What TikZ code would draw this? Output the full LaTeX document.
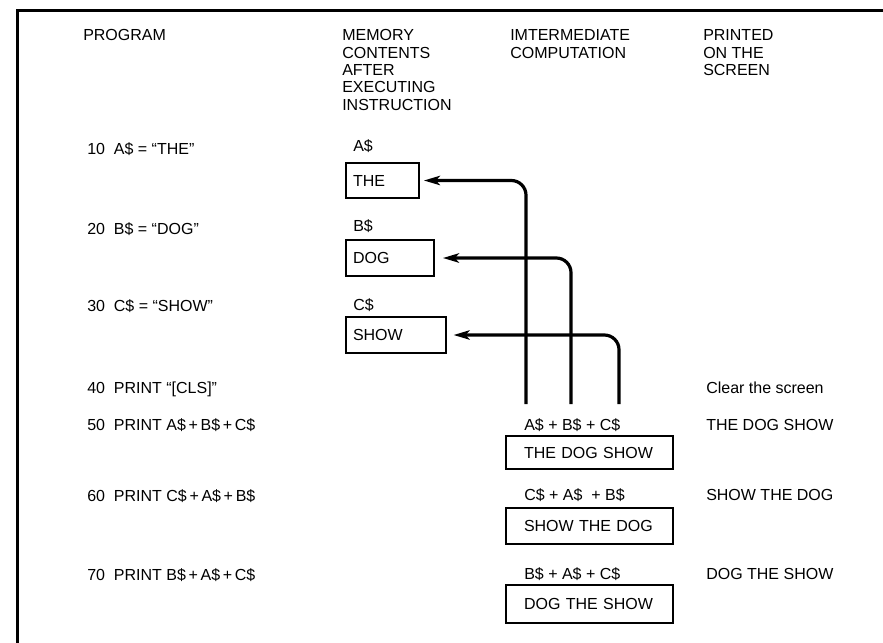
\documentclass[tikz,border=0pt]{standalone}
\usepackage{fontspec}
\setmainfont{Liberation Sans}
\usetikzlibrary{arrows.meta}
\begin{document}
\begin{tikzpicture}[x=0.75pt,y=-0.75pt,
  txt/.style={anchor=base west,inner sep=0pt,font=\fontsize{12}{12.75}\selectfont},
  head/.style={anchor=north west,inner sep=0pt,align=left,font=\fontsize{12}{13}\selectfont},
  membox/.style={draw,line width=1.4pt,inner xsep=5.25pt,inner ysep=0pt,align=left,
    minimum height=26.5pt,font=\fontsize{12}{12.75}\selectfont},
  resbox/.style={draw,line width=1.4pt,inner xsep=13.5pt,inner ysep=0pt,align=left,
    text width=98.25pt,font=\fontsize{12}{12.75}\selectfont},
  flow/.style={line width=2.4pt,rounded corners=11pt,
    -{Stealth[length=12pt,width=7pt,inset=3pt]}},
  frame/.style={line width=2.25pt}]
\useasboundingbox (0,0) rectangle (883,643);
\draw[frame] (17,643) -- (17,10) -- (883,10);

% headers
\node[head] (hprog) at (83,29.5) {PROGRAM};
\node[head] (hmem) at (342,29.5) {MEMORY\\CONTENTS\\AFTER\\EXECUTING\\INSTRUCTION};
\node[head] (hcomp) at (510,29.5) {IMTERMEDIATE\\COMPUTATION};
\node[head] (hprint) at (703,29.5) {PRINTED\\ON THE\\SCREEN};

% program lines
\node[txt] (p10) at (87,154) {10~~A\$ = “THE”};
\node[txt] (p20) at (87,234) {20~~B\$ = “DOG”};
\node[txt] (p30) at (87,311) {30~~C\$ = “SHOW”};
\node[txt] (p40) at (87,393) {40~~PRINT “[CLS]”};
\node[txt] (p50) at (87,430) {50~~PRINT A\$\,+\,B\$\,+\,C\$};
\node[txt] (p60) at (87,501) {60~~PRINT C\$\,+\,A\$\,+\,B\$};
\node[txt] (p70) at (87,580) {70~~PRINT B\$\,+\,A\$\,+\,C\$};

% memory
\node[txt] (la) at (353,151) {A\$};
\node[txt] (lb) at (353,231) {B\$};
\node[txt] (lc) at (353,310) {C\$};
\node[membox,text width=44.25pt] (mthe) at (382.5,180.5) {THE};
\node[membox,text width=55.5pt] (mdog) at (390,258) {DOG};
\node[membox,text width=64.5pt] (mshow) at (396,335) {SHOW};

% intermediate computation
\node[txt] (e50) at (524,430) {A\$ + B\$ + C\$};
\node[txt] (e60) at (524,500) {C\$ + A\$~ + B\$};
\node[txt] (e70) at (524,579) {B\$ + A\$ + C\$};
\node[resbox,minimum height=24.75pt] (r50) at (589.5,452.5) {THE DOG SHOW};
\node[resbox,minimum height=27pt] (r60) at (589.5,526) {SHOW THE DOG};
\node[resbox,minimum height=28.5pt] (r70) at (589.5,604) {DOG THE SHOW};

% printed
\node[txt] (s40) at (706,393) {Clear the screen};
\node[txt] (s50) at (706,430) {THE DOG SHOW};
\node[txt] (s60) at (706,500) {SHOW THE DOG};
\node[txt] (s70) at (706,579) {DOG THE SHOW};

% arrows
\coordinate (ca) at (526,404);
\coordinate (cb) at (571,404);
\coordinate (cc) at (619,404);
\draw[flow] (ca) |- ([xshift=3pt]mthe.east);
\draw[flow] (cb) |- ([xshift=6pt]mdog.east);
\draw[flow] (cc) |- ([xshift=5pt]mshow.east);
\end{tikzpicture}
\end{document}
